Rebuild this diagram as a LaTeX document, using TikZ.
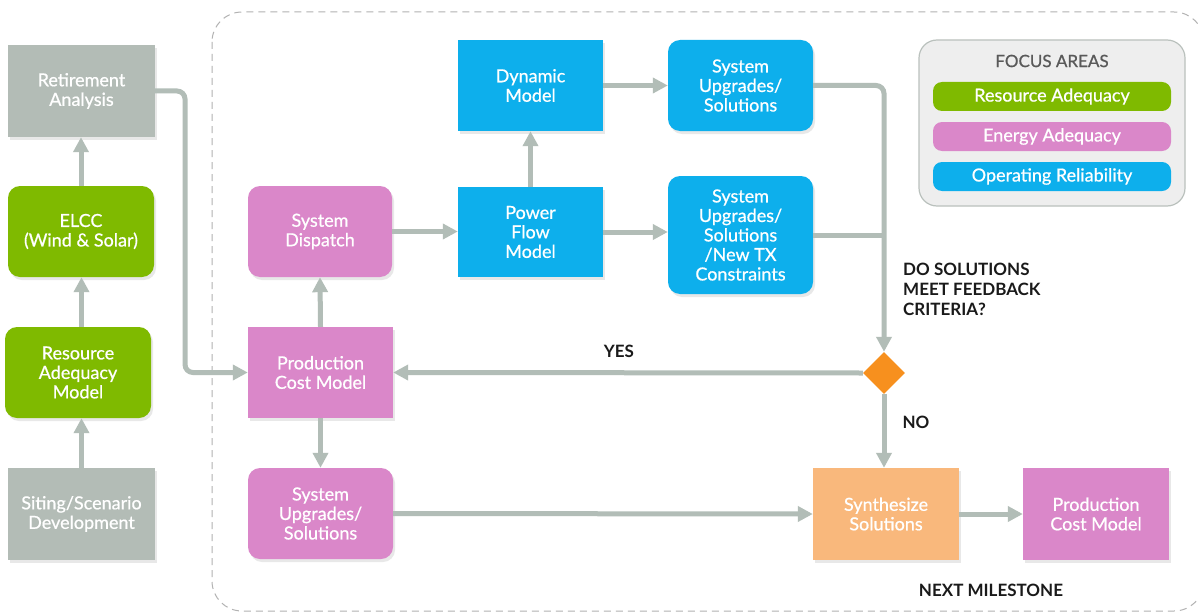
\documentclass[tikz,border=0pt]{standalone}
\usepackage{fontspec}
\setmainfont{Lato}
\newfontfamily\boxfont[FakeBold=0.7]{Lato}
\usetikzlibrary{arrows.meta,shapes.geometric,shadows}
\definecolor{cgray}{HTML}{B3BCB6}
\definecolor{cgreen}{HTML}{7FBA00}
\definecolor{cpink}{HTML}{DA87C9}
\definecolor{cblue}{HTML}{0DAFEC}
\definecolor{corange}{HTML}{F9B87C}
\definecolor{cdia}{HTML}{F7901E}
\definecolor{carrow}{HTML}{B2BDB7}
\definecolor{clegfill}{HTML}{EEEEEE}
\definecolor{clegdraw}{HTML}{BAC1BD}
\definecolor{clabel}{HTML}{1A1A1A}
\tikzset{
  bx/.style={inner sep=0pt, align=center, text=white, font=\boxfont\fontsize{18}{19.5}\selectfont,
    drop shadow={opacity=0.18, shadow xshift=2pt, shadow yshift=-3pt}},
  wh/.style 2 args={minimum width=#1pt, minimum height=#2pt},
  rnd/.style={rounded corners=12pt},
  arr/.style={draw=carrow, line width=5pt, -{Triangle[width=15pt,length=15pt]}},
  ln/.style={draw=carrow, line width=5pt, rounded corners=8pt},
  lbl/.style={text=clabel, font=\bfseries\fontsize{17}{20}\selectfont, inner sep=0pt},
  bar/.style={fill=#1, rounded corners=9pt, minimum width=238pt, minimum height=29pt, inner sep=0pt,
    text=white, font=\boxfont\fontsize{18}{20}\selectfont}
}
\begin{document}
\begin{tikzpicture}[x=1pt,y=-1pt]
\useasboundingbox (0,0) rectangle (1198,615);
\fill[white] (0,0) rectangle (1198,615);
% dashed container
\draw[draw=black!30, line width=1pt, dash pattern=on 7pt off 5pt, rounded corners=30pt] (212,12) rectangle (1204,611);

% left column
\node[bx, wh={147}{92}, fill=cgray] (ret) at (81.5,91) {Retirement\\Analysis};
\node[bx, wh={146}{91}, fill=cgreen, rnd] (elcc) at (81,231.5) {ELCC\\(Wind \& Solar)};
\node[bx, wh={146}{91}, fill=cgreen, rnd] (ram) at (78,372.5) {Resource\\Adequacy\\Model};
\node[bx, wh={147}{92}, fill=cgray] (sit) at (81.5,514) {Siting/Scenario\\Development};

% middle
\node[bx, wh={144}{91}, fill=cpink, rnd] (disp) at (320,231.5) {System\\Dispatch};
\node[bx, wh={145}{91}, fill=cpink] (pcm) at (320.5,372.5) {Production\\Cost Model};
\node[bx, wh={145}{91}, fill=cpink, rnd] (sug) at (320.5,513.5) {System\\Upgrades/\\Solutions};
\node[bx, wh={145}{91}, fill=cblue] (dyn) at (530.5,85.5) {Dynamic\\Model};
\node[bx, wh={145}{90}, fill=cblue] (pf) at (530.5,232) {Power\\Flow\\Model};
\node[bx, wh={145}{91}, fill=cblue, rnd] (su1) at (740.5,85.5) {System\\Upgrades/\\Solutions};
\node[bx, wh={145}{118}, fill=cblue, rnd] (su2) at (740.5,235) {System\\Upgrades/\\Solutions\\/New TX\\Constraints};
\node[bx, wh={146}{92}, fill=corange] (syn) at (886,514) {Synthesize\\Solutions};
\node[bx, wh={146}{92}, fill=cpink] (pcm2) at (1096,514) {Production\\Cost Model};
\node[diamond, fill=cdia, minimum width=42pt, minimum height=42pt, inner sep=0pt] (dia) at (884,373) {};

% legend
\node[draw=clegdraw, line width=1.2pt, fill=clegfill, rounded corners=18pt, minimum width=266pt, minimum height=166pt] (leg) at (1052,123) {};
\node[text=black!65, font=\boxfont\fontsize{17}{20}\selectfont, inner sep=0pt] (legt) at (1052,61) {FOCUS AREAS};
\node[bar=cgreen] (l1) at (1052,96.5) {Resource Adequacy};
\node[bar=cpink] (l2) at (1052,136.5) {Energy Adequacy};
\node[bar=cblue] (l3) at (1052,176.5) {Operating Reliability};

% labels
\node[lbl, anchor=north west, align=left] (q) at (903,263) {DO SOLUTIONS\\MEET FEEDBACK\\CRITERIA?};
\node[lbl] (yes) at (619,351) {YES};
\node[lbl] (no) at (916,422) {NO};
\node[lbl] (nm) at (991,590) {NEXT MILESTONE};

% connectors
\coordinate (bendA) at (185,91);
\draw[arr] (sit.north) -- (sit.north |- ram.south);
\draw[arr] (sit.north |- ram.north) -- (sit.north |- elcc.south);
\draw[arr] (elcc.north) -- (ret.south -| elcc.north);
\draw[arr, rounded corners=8pt] (ret.east) -- (bendA) |- (pcm.west);
\draw[arr] (pcm.north) -- (disp.south);
\draw[arr] (pcm.south) -- (sug.north);
\draw[arr] (disp.east) -- (disp.east -| pf.west);
\draw[arr] (pf.north) -- (dyn.south);
\draw[arr] (dyn.east) -- (su1.west);
\draw[arr] (pf.east) -- (pf.east -| su2.west);
\draw[ln] (su2.east) -- (su2.east -| dia.north);
\draw[arr, rounded corners=8pt] (su1.east) -| (dia.north);
\draw[arr] (dia.west) -- (pcm.east);
\draw[arr] (dia.south) -- (dia.south |- syn.north);
\draw[arr] (sug.east) -- (syn.west);
\draw[arr] (syn.east) -- (pcm2.west);
\end{tikzpicture}
\end{document}
